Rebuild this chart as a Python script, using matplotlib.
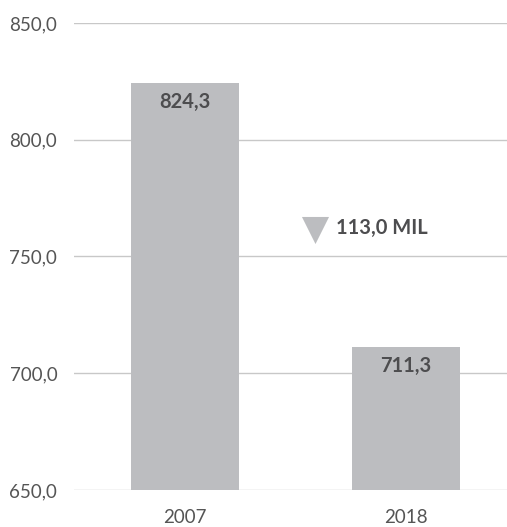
import matplotlib
matplotlib.use("Agg")
import matplotlib.pyplot as plt

years = ["2007", "2018"]
values = [824.3, 711.3]
value_labels = ["824,3", "711,3"]
change_label = "113,0 MIL"
yticks = [650, 700, 750, 800, 850]
ytick_labels = ["650,0", "700,0", "750,0", "800,0", "850,0"]

plt.rcParams["font.family"] = ["Lato", "DejaVu Sans"]

BAR = "#bcbdc0"
TEXT = "#4d4d4f"
TICK = "#555555"
GRID = "#c8c8c8"

fig = plt.figure(figsize=(5.07, 5.27), dpi=100)
ax = fig.add_axes([0.146, 0.0702, 0.854, 0.8862])

x = list(range(len(years)))
ax.bar(x, values, width=0.489, color=BAR, zorder=2)

for xi, v, lab in zip(x, values, value_labels):
    ax.annotate(lab, (xi, v), xytext=(0, -14), textcoords="offset points",
                ha="center", va="center", fontsize=14.5, fontweight="bold", color=TEXT)

# change indicator
ax.scatter([0.588], [761.3], marker="v", s=380, color=BAR, zorder=3, linewidths=0)
ax.text(0.684, 762.2, change_label, ha="left", va="center",
        fontsize=14.5, fontweight="bold", color=TEXT)

ax.set_xlim(-0.502, 1.457)
ax.set_ylim(650, 850)
ax.set_yticks(yticks)
ax.set_yticklabels(ytick_labels)
ax.set_xticks(x)
ax.set_xticklabels(years)
ax.yaxis.grid(True, color=GRID, lw=1, zorder=0)
ax.set_axisbelow(True)
for s in ax.spines.values():
    s.set_visible(False)
ax.tick_params(axis="y", length=0, pad=12, labelsize=13.5, labelcolor=TICK)
ax.tick_params(axis="x", length=0, pad=14, labelsize=13.5, labelcolor=TICK)

fig.savefig("out.png", dpi=100)
